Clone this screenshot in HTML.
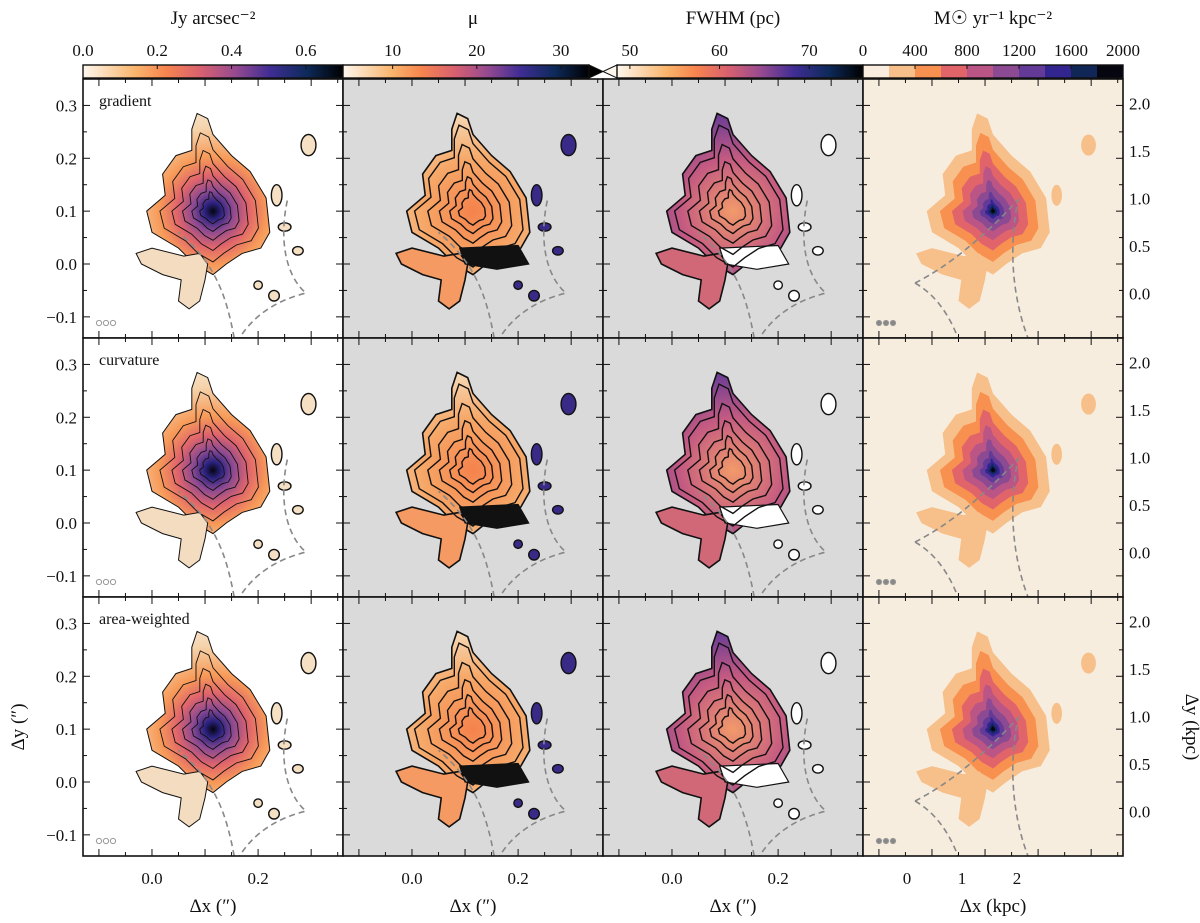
<!DOCTYPE html>
<html><head><meta charset="utf-8"><style>
body{margin:0;background:#fff}
svg text{font-family:"Liberation Serif",serif;fill:#111}
</style></head><body>
<svg id="fig" width="1200" height="918" viewBox="0 0 1200 918" xmlns="http://www.w3.org/2000/svg">
<defs>
<linearGradient id="cmap" x1="0" x2="1" y1="0" y2="0">
<stop offset="0" stop-color="#fdf7ee"/><stop offset="0.2" stop-color="#f9b56c"/><stop offset="0.32" stop-color="#f7844e"/><stop offset="0.45" stop-color="#d9616f"/><stop offset="0.58" stop-color="#9a4b8f"/><stop offset="0.72" stop-color="#3f2d94"/><stop offset="0.86" stop-color="#0d2a5a"/><stop offset="1" stop-color="#000"/>
</linearGradient>
</defs>
<g id="root"></g>
</svg>
<script>
// data
const rowLabels=["gradient","curvature","area-weighted"];
const cbTitles=["Jy arcsec\u207B\u00B2","\u03BC","FWHM (pc)","M\u2609 yr\u207B\u00B9 kpc\u207B\u00B2"];
const cb1Ticks=[0.0,0.2,0.4,0.6]; const cb1Range=[0,0.7];
const cb2Ticks=[10,20,30]; const cb2Range=[4.1,35];
const cb3Ticks=[50,60,70]; const cb3Range=[47,76];
const cb4Ticks=[0,400,800,1200,1600,2000]; const cb4Range=[0,2000];
const cb4Levels=["#f8eddf","#f7c08a","#f89050","#e0646a","#bb5585","#8c4a92","#633a98","#322590","#0f2656","#05060f"];
const xTicks=[0.0,0.2]; const yTicks=[-0.1,0.0,0.1,0.2,0.3];
const kxTicks=[0,1,2]; const kyTicks=[0.0,0.5,1.0,1.5,2.0];
const peak=[0.115,0.10];
const mainBlob=[[0.085,0.285],[0.105,0.275],[0.115,0.245],[0.15,0.205],[0.185,0.175],[0.215,0.125],[0.222,0.06],[0.205,0.03],[0.17,0.02],[0.14,0.0],[0.115,-0.02],[0.08,0.0],[0.05,0.03],[0.0,0.06],[-0.01,0.1],[0.025,0.13],[0.02,0.17],[0.045,0.205],[0.075,0.215],[0.075,0.255]];
const lowBlob=[[0.06,0.015],[0.09,0.02],[0.105,0.0],[0.1,-0.03],[0.09,-0.07],[0.07,-0.085],[0.05,-0.07],[0.055,-0.03],[0.02,-0.02],[-0.02,0.0],[-0.03,0.02],[0.0,0.03]];
const smallBlobs=[[0.295,0.225,0.014,0.02],[0.235,0.13,0.01,0.02],[0.275,0.025,0.01,0.008],[0.23,-0.06,0.01,0.01],[0.2,-0.04,0.008,0.008],[0.25,0.07,0.012,0.008]];
const levels=[1,0.8,0.62,0.46,0.32,0.2];
// layout
const PX=[83,343,603,863], PY=[79,338,597], W=260, H=259;
const NS="http://www.w3.org/2000/svg";
const root=document.getElementById('root');
function mk(t,a,p){const e=document.createElementNS(NS,t);for(const k in a)e.setAttribute(k,a[k]);(p||root).appendChild(e);return e;}
const xpx=(x,c)=>PX[c]+(x+0.13)/0.49*W;
const ypx=(y,r)=>PY[r]+(0.35-y)/0.49*H;
const kx=(k)=>PX[3]+44+k*55;
const ky=(k,r)=>PY[r]+(2.26-k)*95;
function poly(pts,c,r,s){return pts.map(p=>{const x=peak[0]+(p[0]-peak[0])*s,y=peak[1]+(p[1]-peak[1])*s;return xpx(x,c).toFixed(1)+","+ypx(y,r).toFixed(1);}).join(" ");}
const bgs=["#ffffff","#dadada","#dadada","#f7eddf"];
const colStops=[
 [["0","#05050f"],["0.07","#2c2380"],["0.17","#8d4a92"],["0.3","#e0656b"],["0.45","#f79a58"],["0.7","#f5d4ad"],["1","#f8efe3"]],
 [["0","#f5824c"],["0.4","#f6a868"],["0.75","#f6d8b4"],["1","#f8efe2"]],
 [["0","#f29a6a"],["0.35","#c45a82"],["0.65","#6a3c96"],["1","#3a2a88"]]
];
for(let r=0;r<3;r++)for(let c=0;c<4;c++){
 const g=mk('g',{});
 
 
 const cp=mk('clipPath',{id:'cp'+r+c},g);mk('rect',{x:PX[c],y:PY[r],width:W,height:H},cp);
 mk('rect',{x:PX[c],y:PY[r],width:W,height:H,fill:bgs[c]},g);
 const inner=mk('g',{'clip-path':'url(#cp'+r+c+')'},g);
 const cx=xpx(peak[0],c), cy=ypx(peak[1],r);
 if(c<3){
  const gr=mk('radialGradient',{id:'gr'+r+c,gradientUnits:'userSpaceOnUse',cx:cx,cy:cy,r:c==0?120:(c==1?130:150),fx:cx,fy:cy},inner);
  colStops[c].forEach(s=>mk('stop',{offset:s[0],'stop-color':s[1]},gr));
  const fill='url(#gr'+r+c+')';
  mk('polygon',{points:poly(mainBlob,c,r,1),fill:fill,stroke:'#111','stroke-width':c==0?1:1.6},inner);
  mk('polygon',{points:poly(lowBlob,c,r,1),fill:c==0?'#f3dcc0':(c==1?'#f59a62':'#d06878'),stroke:'#111','stroke-width':c==0?1:1.6},inner);
  smallBlobs.forEach(b=>mk('ellipse',{cx:xpx(b[0],c),cy:ypx(b[1],r),rx:b[2]/0.49*W,ry:b[3]/0.49*H,fill:c==0?'#f6e0c4':(c==1?'#3a2a88':'#ffffff'),stroke:'#111','stroke-width':1.4},inner));
  if(c>0){mk('polygon',{points:[[0.09,0.03],[0.2,0.035],[0.22,0.0],[0.16,-0.01],[0.1,0.0]].map(p=>xpx(p[0],c)+","+ypx(p[1],r)).join(" "),fill:c==1?'#111':'#fff',stroke:'#111','stroke-width':1.2},inner);}
  levels.slice(1).forEach(s=>mk('polygon',{points:poly(mainBlob,c,r,c==0?s:s*1.1),fill:'none',stroke:'#111','stroke-width':c==0?0.9:1.4},inner));
 } else {
  levels.concat([0.12,0.07,0.035]).forEach((s,i)=>mk('polygon',{points:poly(mainBlob,c,r,s),fill:cb4Levels[Math.min(i+1,9)]},inner));
  mk('polygon',{points:poly(lowBlob,c,r,1),fill:cb4Levels[1]},inner);
  smallBlobs.slice(0,2).forEach(b=>mk('ellipse',{cx:xpx(b[0],c),cy:ypx(b[1],r),rx:b[2]/0.49*W,ry:b[3]/0.49*H,fill:cb4Levels[1]},inner));
 }
 // caustics
 const dash={fill:'none',stroke:'#888','stroke-width':1.6,'stroke-dasharray':'6,4'};
 if(c<3){
  const P=(x,y)=>xpx(x,c).toFixed(1)+','+ypx(y,r).toFixed(1);
  mk('path',Object.assign({d:'M'+P(0.155,-0.14)+' C'+P(0.14,-0.06)+' '+P(0.12,0.0)+' '+P(0.05,0.06)},dash),inner);
  mk('path',Object.assign({d:'M'+P(0.255,0.12)+' C'+P(0.24,0.05)+' '+P(0.25,-0.02)+' '+P(0.29,-0.055)+' C'+P(0.23,-0.07)+' '+P(0.19,-0.1)+' '+P(0.165,-0.14)},dash),inner);
 } else {
  const P=(x,y)=>(PX[c]+x)+','+(PY[r]+y);
  mk('path',Object.assign({d:'M'+P(52,204)+' Q'+P(100,180)+' '+P(155,121)+' C'+P(145,170)+' '+P(150,220)+' '+P(165,259)},dash),inner);
  mk('path',Object.assign({d:'M'+P(52,204)+' Q'+P(80,220)+' '+P(95,259)},dash),inner);
 }
 // beam
 for(let k=0;k<3;k++){if(c==0||c==3)mk('circle',{cx:PX[c]+16+k*7,cy:PY[r]+244,r:2.6,fill:c==3?'#888':'none',stroke:'#999','stroke-width':1},g);}
 mk('rect',{x:PX[c],y:PY[r],width:W,height:H,fill:'none',stroke:'#111','stroke-width':1.6},g);
 // ticks
 for(let x=-0.1;x<0.36;x+=0.05){const X=xpx(x,c),maj=Math.abs(Math.round(x*10)-x*10)<0.01;const L=maj?7:4;mk('line',{x1:X,x2:X,y1:PY[r]+H,y2:PY[r]+H-L,stroke:'#111'},g);mk('line',{x1:X,x2:X,y1:PY[r],y2:PY[r]+L,stroke:'#111'},g);}
 for(let y=-0.1;y<0.36;y+=0.05){const Y=ypx(y,r),maj=Math.abs(Math.round(y*10)-y*10)<0.01;const L=maj?7:4;mk('line',{x1:PX[c],x2:PX[c]+L,y1:Y,y2:Y,stroke:'#111'},g);mk('line',{x1:PX[c]+W,x2:PX[c]+W-L,y1:Y,y2:Y,stroke:'#111'},g);}
}
function txt(s,x,y,name,anchor,size){const t=mk('text',{x:x,y:y,'text-anchor':anchor||'middle','font-size':size||17});t.textContent=s;return t;}
const fmt=v=>(v<0?"\u2212":"")+Math.abs(v).toFixed(1);
for(let r=0;r<3;r++){
 txt(rowLabels[r],PX[0]+16,PY[r]+27,'row-label-'+(r+1),'start',16);
 yTicks.forEach(v=>txt(fmt(v),PX[0]-6,ypx(v,r)+6,'y-tick-label','end'));
 kyTicks.forEach(v=>txt(v.toFixed(1),PX[3]+W+6,ky(v,r)+6,'ky-tick-label','start'));
}
for(let c=0;c<3;c++){xTicks.forEach(v=>txt(fmt(v),xpx(v,c),884,'x-tick-label'));txt('\u0394x (\u2033)',xpx(0.115,c),912,'x-axis-title','middle',19);}
kxTicks.forEach(v=>txt(String(v),kx(v),884,'kx-tick-label'));
txt('\u0394x (kpc)',PX[3]+130,912,'x-axis-title-kpc','middle',19);
let t=txt('\u0394y (\u2033)',0,0,'y-axis-title','middle',19);t.setAttribute('transform','translate(24,727) rotate(-90)');
t=txt('\u0394y (kpc)',0,0,'y-axis-title-kpc','middle',19);t.setAttribute('transform','translate(1186,727) rotate(90)');
// colorbars
const cbY=65,cbH=13;
const cbs=[[cb1Ticks,cb1Range],[cb2Ticks,cb2Range],[cb3Ticks,cb3Range],[cb4Ticks,cb4Range]];
cbs.forEach((cb,c)=>{
 const g=mk('g',{});
 if(c<3){let x0=PX[c],w=W;
  if(c==1){w=W-14;mk('polygon',{points:`${x0+w},${cbY} ${x0+W},${cbY+cbH/2} ${x0+w},${cbY+cbH}`,fill:'#000',stroke:'#111'},g);}
  if(c==2){x0=PX[c]+14;w=W-14;mk('polygon',{points:`${x0},${cbY} ${PX[c]},${cbY+cbH/2} ${x0},${cbY+cbH}`,fill:'#fdf7ee',stroke:'#111'},g);}
  mk('rect',{x:x0,y:cbY,width:w,height:cbH,fill:'url(#cmap)',stroke:'#111','stroke-width':1.4},g);}
 else{cb4Levels.forEach((col,i)=>mk('rect',{x:PX[3]+i*W/10,y:cbY,width:W/10+0.5,height:cbH,fill:col},g));mk('rect',{x:PX[3],y:cbY,width:W,height:cbH,fill:'none',stroke:'#111','stroke-width':1.4},g);}
 const [ticks,rg]=cb;
 ticks.forEach(v=>{const X=PX[c]+(v-rg[0])/(rg[1]-rg[0])*W;mk('line',{x1:X,x2:X,y1:cbY,y2:cbY+4,stroke:'#111'},g);txt(c==0?v.toFixed(1):String(v),X,56,'colorbar-tick-label');});
 txt(cbTitles[c],PX[c]+W/2,24,'colorbar-title','middle',19);
});
</script>
</body></html>
